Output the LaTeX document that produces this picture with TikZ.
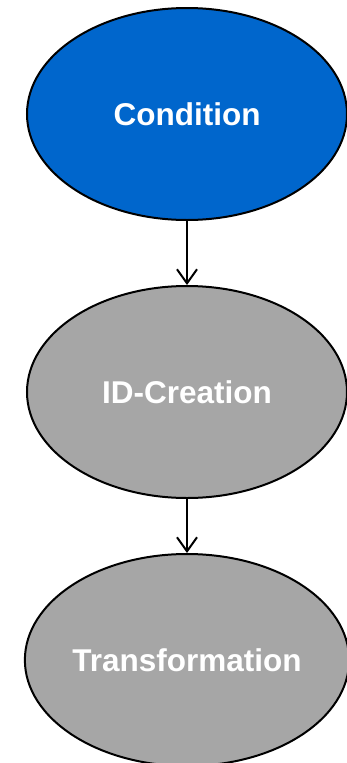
\documentclass[tikz,border=0pt]{standalone}
\usepackage{fontspec}
\setmainfont{Liberation Sans}
\usetikzlibrary{shapes.geometric,arrows.meta}
\definecolor{condblue}{HTML}{0066CC}
\definecolor{stepgray}{HTML}{A6A6A6}
\begin{document}
\begin{tikzpicture}[x=1pt,y=1pt,
  ellbox/.style={ellipse, draw=black, line width=2pt, minimum width=320pt, minimum height=212pt, inner sep=0pt,
    text=white, font=\fontsize{31.5}{36}\selectfont\bfseries},
  conn/.style={draw=black, line width=2pt, -{Straight Barb[length=14pt,width=20pt,line width=2pt]}}]
\useasboundingbox (0,0) rectangle (347,-763);
\node[ellbox, fill=condblue] (cond) at (187,-114) {Condition};
\node[ellbox, fill=stepgray] (idc) at (187,-392) {ID-Creation};
\node[ellbox, fill=stepgray] (trans) at (187,-660) {Transformation};
\draw[conn] (cond) -- (idc);
\draw[conn] (idc) -- (trans);
\end{tikzpicture}
\end{document}
